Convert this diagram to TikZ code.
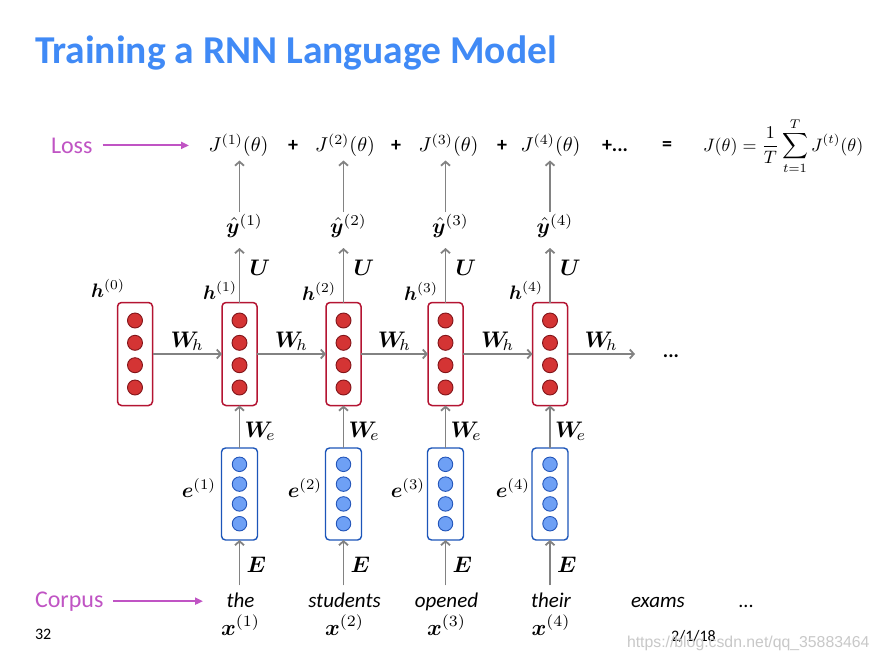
\RequirePackage{fix-cm}
\documentclass[tikz,border=0pt]{standalone}
\usepackage{amsmath}
\usepackage{bm}
\usepackage[no-math]{fontspec}
\setmainfont{Carlito}
\newfontfamily\wmfont{Liberation Sans}
\usetikzlibrary{arrows.meta}
\definecolor{ttlblue}{RGB}{64,138,246}
\definecolor{mag}{RGB}{192,84,196}
\definecolor{hred}{RGB}{180,20,50}
\definecolor{cred}{RGB}{212,52,52}
\definecolor{cdred}{RGB}{130,20,25}
\definecolor{eblue}{RGB}{28,85,185}
\definecolor{cblue}{RGB}{110,160,245}
\definecolor{cdblue}{RGB}{35,85,185}
\definecolor{arrgray}{RGB}{130,130,130}
\definecolor{wmgray}{RGB}{200,200,200}
\tikzset{
  hbox/.style={draw=hred, line width=1.5pt, rounded corners=4pt, minimum width=35pt, minimum height=103pt, fill=white},
  ebox/.style={draw=eblue, line width=1.4pt, rounded corners=4pt, minimum width=36pt, minimum height=92pt, fill=white},
  hdot/.style={circle, draw=cdred, fill=cred, line width=0.9pt, minimum size=15pt},
  edot/.style={circle, draw=cdblue, fill=cblue, line width=0.9pt, minimum size=14.5pt},
  garr/.style={draw=arrgray, line width=1.8pt, -{Straight Barb[length=4pt,width=9pt]}},
  marr/.style={draw=mag, line width=2pt, -{Triangle[length=8pt,width=7pt]}},
  mlab/.style={font=\fontsize{10}{12}\selectfont, scale=2.25, transform shape},
  slab/.style={font=\fontsize{10}{12}\selectfont, scale=1.95, transform shape},
  elab/.style={font=\fontsize{10}{12}\selectfont, scale=2.1, transform shape},
  ylab/.style={font=\fontsize{10}{12}\selectfont, scale=2.15, transform shape},
  jlab/.style={font=\fontsize{10}{12}\selectfont, scale=2.0, transform shape},
  wlab/.style={font=\fontsize{21}{24}\selectfont\itshape, anchor=base},
  plab/.style={font=\fontsize{20}{24}\selectfont\bfseries},
  magtxt/.style={font=\fontsize{24}{28}\selectfont, text=mag, anchor=base west},
}
\begin{document}
\begin{tikzpicture}[x=1pt,y=-1pt, every node/.style={inner sep=0pt, outer sep=0pt}]
\useasboundingbox (0,0) rectangle (880,659);
\fill[white] (0,0) rectangle (880,659);

% title
\node[anchor=base west, text=ttlblue, font=\fontsize{39.5}{44}\selectfont\bfseries] (title) at (35,63) {Training a RNN Language Model};

% loss row
\node[magtxt] (loss) at (51,153) {Loss};
\coordinate (lossend) at (189,145);
\draw[marr, shorten <=10pt] (loss.east) -- (loss.east -| lossend);

\node[jlab, anchor=base] (J1) at (238.5,151.5) {$J^{(1)}(\theta)$};
\node[plab] (p1) at (293,146) {+};
\node[jlab, anchor=base] (J2) at (345,151.5) {$J^{(2)}(\theta)$};
\node[plab] (p2) at (396,146) {+};
\node[jlab, anchor=base] (J3) at (448.5,151.5) {$J^{(3)}(\theta)$};
\node[plab] (p3) at (502,146) {+};
\node[jlab, anchor=base] (J4) at (550.5,151.5) {$J^{(4)}(\theta)$};
\node[plab] (p4) at (615,146) {+...};
\node[plab] (eq) at (667,146) {=};
\node[font=\fontsize{10}{12}\selectfont, scale=1.8, transform shape, anchor=base west] (form) at (703,151) {$J(\theta)=\dfrac{1}{T}\displaystyle\sum_{t=1}^{T}J^{(t)}(\theta)$};

% h0
\node[hbox] (h0) at (135,354) {};
\foreach \d in {-33.5,-11.2,11.2,33.5} \node[hdot] at ([yshift=\d pt]h0.center) {};
\node[slab, anchor=base east] (hl0) at (125,297) {$\bm{h}^{(0)}$};

% columns
\foreach \i/\cx/\hl/\hb/\el/\w in {1/239.5/237/299/216/the, 2/343.5/336/300/322/students, 3/445.5/438/300/425/opened, 4/550/543/299/530/their} {
  \node[hbox] (h\i) at (\cx,354) {};
  \foreach \d in {-33.5,-11.2,11.2,33.5} \node[hdot] at ([yshift=\d pt]h\i.center) {};
  \node[slab, anchor=base east] (hl\i) at (\hl,\hb) {$\bm{h}^{(\i)}$};
  \node[ebox] (e\i) at (\cx,494) {};
  \foreach \d in {-29.7,-9.9,9.9,29.7} \node[edot] at ([yshift=\d pt]e\i.center) {};
  \node[elab, anchor=base east] (el\i) at (\el,497) {$\bm{e}^{(\i)}$};
  \node[wlab] (w\i) at (\cx+1,607) {\w};
  \node[mlab, anchor=base] (x\i) at (\cx+1,635) {$\bm{x}^{(\i)}$};
  \node[ylab, anchor=base] (yh\i) at (\cx+5,233) {$\hat{\bm{y}}^{(\i)}$};
  \coordinate (u\i) at (\cx,248);
  \coordinate (t\i) at (\cx,212);
  \draw[garr, shorten <=7pt] (w\i.north -| e\i.south) -- (e\i.south);
  \node[mlab, anchor=base west] (E\i) at (\cx+7,572) {$\bm{E}$};
  \draw[garr] (e\i.north) -- (h\i.south);
  \node[mlab, anchor=base west] (We\i) at (\cx+5,437) {$\bm{W}_{\!e}$};
  \draw[garr] (h\i.north) -- (u\i);
  \node[mlab, anchor=base west] (U\i) at (\cx+10,275) {$\bm{U}$};
  \draw[garr, shorten >=4pt] (t\i) -- (J\i.south -| t\i);
}

% recurrent arrows
\coordinate (hend) at (635,354);
\foreach \a/\b in {h0/h1, h1/h2, h2/h3, h3/h4} {
  \draw[garr] (\a.east) -- (\b.west) coordinate[midway] (m\a);
  \node[mlab, anchor=base] (wh\a) at ([yshift=7pt]m\a) {$\bm{W}_{\!h}$};
}
\draw[garr] (h4.east) -- (hend) coordinate[midway] (mh4);
\node[mlab, anchor=base] (whh4) at ([yshift=7pt]mh4) {$\bm{W}_{\!h}$};
\node[plab, anchor=base] (hdots) at (671,357) {...};

% corpus row
\node[magtxt] (corpus) at (35,607) {Corpus};
\coordinate (corpend) at (203,600);
\draw[marr, shorten <=10pt] (corpus.east) -- (corpus.east -| corpend);
\node[wlab] (w5) at (658,607) {exams};
\node[plab, anchor=base, font=\fontsize{20}{24}\selectfont] (wdots) at (746,607) {...};

% footer
\node[anchor=base west, font=\fontsize{16}{19}\selectfont] (pg) at (35,639) {32};
\node[anchor=base west, font=\fontsize{16}{19}\selectfont] (date) at (671,641) {2/1/18};
\node[anchor=base west, font=\fontsize{15.8}{18}\wmfont, text=wmgray] (wm) at (627,647) {https://blog.csdn.net/qq\_35883464};
\end{tikzpicture}
\end{document}
